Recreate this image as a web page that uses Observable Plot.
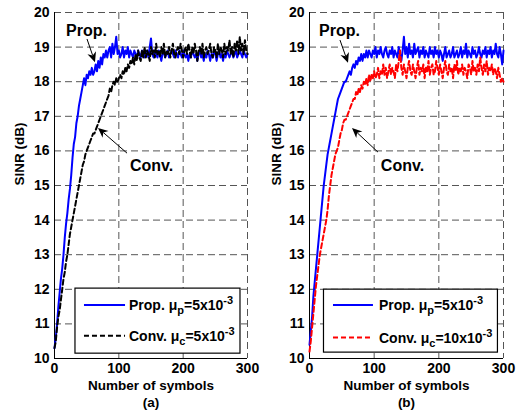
<!DOCTYPE html>
<html>
<head>
<meta charset="utf-8">
<script src="https://cdn.jsdelivr.net/npm/d3@7"></script>
<script src="https://cdn.jsdelivr.net/npm/@observablehq/plot@0.6"></script>
<style>
  html, body { margin: 0; padding: 0; background: white; }
  #wrap { position: relative; width: 523px; height: 412px; overflow: hidden; }
  #wrap svg { position: absolute; top: 0; }
</style>
</head>
<body>
<div id="wrap"></div>
<script>
// ---------- data ----------
const symbols = d3.range(0, 301, 2); // sample grid, every 2 symbols
const xTicks = [0, 100, 200, 300];
const yTicks = [10, 11, 12, 13, 14, 15, 16, 17, 18, 19, 20];

const propA = [
  10.3,10.6,11.0,11.5,11.9,12.3,12.6,13.0,13.5,13.9,
  14.2,14.6,14.9,15.3,15.8,16.2,16.4,16.8,17.0,17.3,
  17.5,17.7,17.9,18.1,17.9,18.2,18.1,18.3,18.2,18.4,
  18.2,18.3,18.5,18.3,18.6,18.4,18.7,18.5,18.8,18.7,
  18.9,18.7,18.9,19.0,18.7,19.1,18.8,19.0,19.3,18.8,
  18.9,18.7,18.8,19.0,18.7,18.9,18.8,19.0,18.7,18.9,
  18.8,18.7,18.9,18.8,18.7,18.9,18.8,18.7,18.9,18.8,
  18.7,18.8,18.9,18.7,19.0,19.25,18.8,18.7,18.9,18.8,
  18.7,18.9,18.8,18.6,18.8,18.9,18.7,18.8,18.9,18.7,
  18.8,18.9,18.8,18.7,18.9,18.8,18.7,18.9,18.8,18.7,
  18.9,18.8,18.7,18.8,18.6,18.8,18.7,18.9,18.8,18.7,
  18.8,18.6,18.8,18.9,18.7,18.8,18.6,18.8,18.7,18.9,
  18.8,18.6,18.8,18.7,18.9,18.8,18.6,18.8,18.9,18.7,
  18.8,18.6,18.8,18.7,18.9,18.8,18.7,18.8,18.9,18.7,
  18.8,18.9,18.7,18.8,18.9,18.8,18.7,18.9,18.8,18.7,
  18.8
];
const convA = [
  10.3,10.5,10.9,11.2,11.4,11.7,12.0,12.3,12.5,12.8,
  13.0,13.3,13.6,13.8,14.0,14.2,14.4,14.6,14.8,15.0,
  15.2,15.4,15.6,15.7,15.9,16.0,16.1,16.2,16.3,16.4,
  16.5,16.5,16.6,16.7,16.8,16.9,17.0,17.1,17.2,17.3,
  17.4,17.5,17.6,17.8,17.7,17.9,18.0,17.9,18.1,18.0,
  18.1,18.2,18.1,18.3,18.2,18.4,18.3,18.5,18.4,18.6,
  18.5,18.7,18.5,18.8,18.6,18.9,18.7,18.6,18.9,18.7,
  19.0,18.7,18.9,18.8,18.6,19.0,18.8,18.9,18.7,19.1,
  18.8,18.9,18.7,19.0,18.8,19.1,18.7,18.9,18.8,19.0,
  18.7,18.9,19.1,18.8,18.7,18.9,19.0,18.8,19.1,18.9,
  18.7,18.9,19.0,18.8,19.1,18.9,18.7,19.0,18.8,19.1,
  18.9,18.6,18.9,19.0,18.8,19.1,18.7,18.9,19.0,18.8,
  18.9,19.1,18.8,18.7,19.0,18.9,18.7,19.1,18.8,19.0,
  18.9,18.7,19.1,18.8,19.0,18.9,19.2,18.8,19.0,18.7,
  19.1,18.9,19.2,18.8,19.3,18.9,19.1,18.8,19.2,18.9,
  18.8
];
const propB = [
  10.4,10.8,11.2,11.8,12.2,12.6,13.0,13.4,13.8,14.2,
  14.6,15.0,15.3,15.6,15.9,16.1,16.3,16.5,16.7,16.9,
  17.1,17.3,17.5,17.6,17.7,17.8,17.9,18.0,18.0,18.1,
  18.2,18.3,18.2,18.4,18.5,18.4,18.6,18.5,18.7,18.6,
  18.8,18.6,18.8,18.7,18.9,18.7,18.9,18.8,18.7,18.9,
  18.8,19.0,18.7,18.9,18.8,19.0,18.8,18.7,18.9,19.0,
  18.8,18.7,18.9,18.8,19.0,18.7,18.9,18.8,18.7,19.0,
  18.8,18.6,18.9,19.3,18.8,19.0,18.7,19.1,18.8,18.9,
  18.7,19.1,18.8,18.9,19.0,18.7,18.9,18.8,19.0,18.7,
  18.9,18.8,18.7,19.0,18.8,18.9,18.7,19.0,18.8,18.9,
  18.7,18.9,18.8,18.6,18.8,19.0,18.7,18.8,18.9,18.7,
  18.8,19.0,18.7,18.8,18.9,18.7,18.8,19.0,18.7,18.9,
  18.8,19.1,18.7,18.9,18.8,18.7,19.0,18.8,18.9,18.7,
  18.8,19.0,18.8,18.7,18.9,18.8,19.0,18.7,18.9,18.8,
  19.0,18.7,18.9,18.8,19.1,18.8,18.7,19.0,18.8,18.5,
  18.9
];
const convB = [
  10.2,10.5,10.9,11.3,11.7,12.1,12.4,12.7,13.0,13.2,
  13.4,13.6,13.8,14.0,14.3,14.7,15.0,15.3,15.5,15.7,
  15.9,16.0,16.1,16.3,16.5,16.6,16.8,16.9,16.9,17.0,
  17.1,17.2,17.3,17.4,17.5,17.5,17.7,17.6,17.8,17.7,
  17.9,17.8,18.0,17.9,18.1,17.9,18.2,18.0,18.2,18.1,
  18.3,18.1,18.2,18.4,18.1,18.3,18.2,18.5,18.2,18.4,
  18.1,18.3,18.5,18.2,18.4,18.3,18.1,18.5,18.3,18.6,
  18.9,18.4,18.2,18.5,18.3,18.1,18.4,18.6,18.3,18.2,
  18.5,18.3,18.1,18.4,18.6,18.2,18.4,18.3,18.5,18.1,
  18.4,18.3,18.6,18.2,18.4,18.5,18.2,18.3,18.6,18.4,
  18.2,18.5,18.3,18.1,18.4,18.6,18.3,18.2,18.5,18.3,
  18.4,18.1,18.5,18.3,18.6,18.2,18.4,18.3,18.5,18.2,
  18.4,18.3,18.1,18.5,18.4,18.2,18.6,18.3,18.4,18.2,
  18.5,18.3,18.7,18.4,18.2,18.5,18.3,18.6,18.2,18.4,
  18.3,18.5,18.2,18.4,18.3,18.1,18.4,18.2,18.0,18.1,
  18.0
];

const legendA = [
  {name: "Prop. ", mu: "p", val: "=5x10", sup: "-3", color: "#0000ff", dash: null},
  {name: "Conv. ", mu: "c", val: "=5x10", sup: "-3", color: "#000000", dash: "5,3"}
];
const legendB = [
  {name: "Prop. ", mu: "p", val: "=5x10", sup: "-3", color: "#0000ff", dash: null},
  {name: "Conv. ", mu: "c", val: "=10x10", sup: "-3", color: "#ff0000", dash: "5,3"}
];

const FONT = "'Liberation Sans', Arial, Helvetica, sans-serif";

function rows(vals) { return symbols.map((s, i) => ({s, v: vals[i]})); }

function makePanel(cfg) {
  const plot = Plot.plot({
    width: cfg.width,
    height: 412,
    marginLeft: cfg.ml,
    marginRight: cfg.mr,
    marginTop: 12,
    marginBottom: 54,
    style: {fontFamily: FONT, fontWeight: "bold", fontSize: "14px", background: "white", color: "black", overflow: "visible"},
    x: {domain: [0, 300]},
    y: {domain: [10, 20]},
    marks: [
      Plot.gridX([100, 200, 300], {stroke: "#555", strokeOpacity: 1, strokeWidth: 1, strokeDasharray: "7,4"}),
      Plot.gridY(yTicks.slice(1), {stroke: "#555", strokeOpacity: 1, strokeWidth: 1, strokeDasharray: "7,4"}),
      Plot.ruleX([0], {stroke: "black", strokeWidth: 1}),
      Plot.ruleY([10], {stroke: "black", strokeWidth: 1}),
      ...cfg.series.map(se => Plot.line(rows(se.values), {
        x: "s", y: "v", stroke: se.color, strokeWidth: 2,
        strokeDasharray: se.dash || undefined, strokeLinejoin: "round"
      })),
      Plot.axisX(xTicks, {tickSize: 0, tickPadding: 5, label: null, fontSize: 14}),
      Plot.axisY(yTicks, {tickSize: 0, tickPadding: 5, label: null, fontSize: 14}),
      Plot.text(["SINR (dB)"], {frameAnchor: "left", rotate: -90, dx: -cfg.ylabOff, fontSize: 13.5, fontWeight: "bold"}),
      Plot.text(["Number of symbols"], {frameAnchor: "bottom", dy: 31, fontSize: 13.5, fontWeight: "bold"}),
      Plot.text([cfg.caption], {frameAnchor: "bottom", dy: 48, fontSize: 13.5, fontWeight: "bold"}),
      Plot.text(cfg.notes, {x: "x", y: "y", text: "t", fontSize: 16, fontWeight: "bold"})
    ]
  });

  const sx = plot.scale("x"), sy = plot.scale("y");
  const svg = d3.select(plot);

  // arrows (MATLAB-like filled heads)
  const ga = svg.append("g");
  cfg.arrows.forEach(a => {
    const x1 = sx.apply(a.x1), y1 = sy.apply(a.y1), x2 = sx.apply(a.x2), y2 = sy.apply(a.y2);
    const dx = x2 - x1, dy = y2 - y1, L = Math.hypot(dx, dy);
    const ux = dx / L, uy = dy / L, nx = -uy, ny = ux;
    const hl = 10, hw = 4.5, notch = 3;
    ga.append("line").attr("x1", x1).attr("y1", y1)
      .attr("x2", x2 - ux * (hl - notch)).attr("y2", y2 - uy * (hl - notch))
      .attr("stroke", "black").attr("stroke-width", 1);
    const pts = [
      [x2, y2],
      [x2 - ux * hl + nx * hw, y2 - uy * hl + ny * hw],
      [x2 - ux * (hl - notch), y2 - uy * (hl - notch)],
      [x2 - ux * hl - nx * hw, y2 - uy * hl - ny * hw]
    ];
    ga.append("polygon").attr("points", pts.map(p => p.join(",")).join(" ")).attr("fill", "black");
  });

  // legend box
  const lg = cfg.legend;
  const bx0 = sx.apply(lg.x0), bx1 = sx.apply(lg.x1), by0 = sy.apply(lg.y0), by1 = sy.apply(lg.y1);
  const g = svg.append("g").attr("font-family", FONT).attr("font-weight", "bold").attr("text-anchor", "start");
  g.append("rect").attr("x", bx0).attr("y", by0).attr("width", bx1 - bx0).attr("height", by1 - by0)
    .attr("fill", "white").attr("stroke", "black").attr("stroke-width", 1.2);
  lg.items.forEach((it, i) => {
    const yy = sy.apply(lg.rowY[i]);
    g.append("line").attr("x1", sx.apply(lg.lx0)).attr("x2", sx.apply(lg.lx1)).attr("y1", yy).attr("y2", yy)
      .attr("stroke", it.color).attr("stroke-width", 2).attr("stroke-dasharray", it.dash);
    const t = g.append("text").attr("x", sx.apply(lg.tx)).attr("y", yy + 5).attr("font-size", 14)
      .attr("fill", "black").attr("text-anchor", "start");
    t.append("tspan").text(it.name + "\u03bc");
    t.append("tspan").attr("dy", 4).attr("font-size", 11).text(it.mu);
    t.append("tspan").attr("dy", -4).text(it.val);
    t.append("tspan").attr("dy", -6).attr("font-size", 11).text(it.sup);
  });

  plot.style.left = cfg.left + "px";
  document.getElementById("wrap").appendChild(plot);
}

makePanel({
  left: 0, width: 260, ml: 54, mr: 13, ylabOff: 35, caption: "(a)",
  series: [
    {values: propA, color: "#0000ff", dash: null},
    {values: convA, color: "#000000", dash: "5,3"}
  ],
  notes: [{x: 49.7, y: 19.48, t: "Prop."}, {x: 150.8, y: 15.58, t: "Conv."}],
  arrows: [
    {x1: 51.3, y1: 19.22, x2: 63.7, y2: 18.55},
    {x1: 113.5, y1: 15.92, x2: 68.4, y2: 16.65}
  ],
  legend: {x0: 32.6, x1: 289.1, y0: 12.02, y1: 10.14, lx0: 46.6, lx1: 110.4, tx: 116.6,
           rowY: [11.53, 10.64], items: legendA}
});

makePanel({
  left: 260, width: 263, ml: 49, mr: 20, ylabOff: 33, caption: "(b)",
  series: [
    {values: propB, color: "#0000ff", dash: null},
    {values: convB, color: "#ff0000", dash: "5,3"}
  ],
  notes: [{x: 46.4, y: 19.48, t: "Prop."}, {x: 143.8, y: 15.58, t: "Conv."}],
  arrows: [
    {x1: 47.9, y1: 19.19, x2: 60.3, y2: 18.53},
    {x1: 106.7, y1: 15.95, x2: 66.5, y2: 16.65}
  ],
  legend: {x0: 22.4, x1: 291.4, y0: 11.99, y1: 10.17, lx0: 37.1, lx1: 98.9, tx: 108.2,
           rowY: [11.53, 10.59], items: legendB}
});
</script>
</body>
</html>
